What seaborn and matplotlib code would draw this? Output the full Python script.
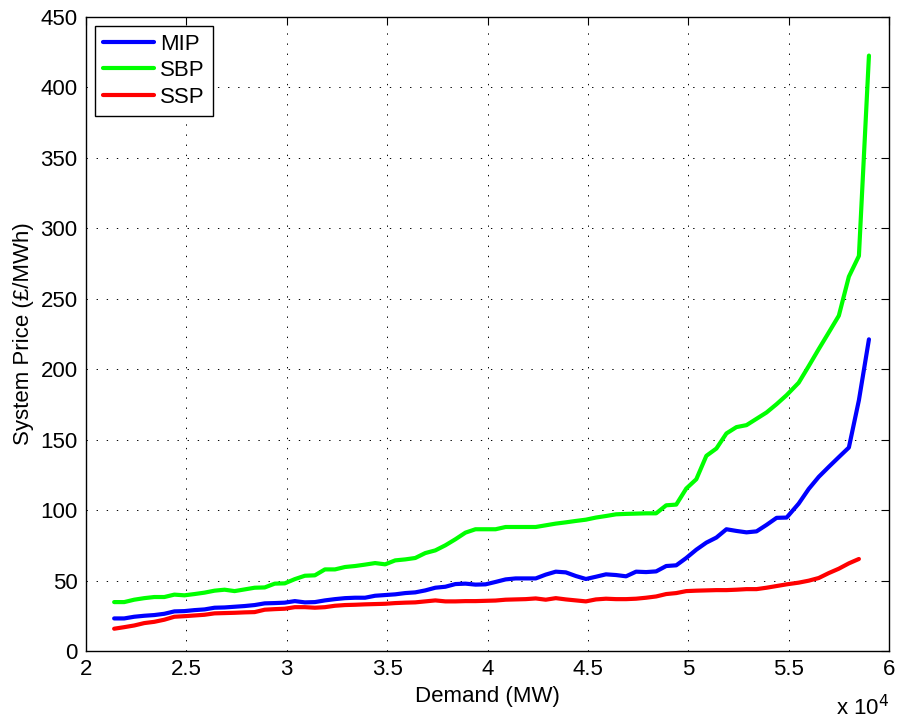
import numpy as np
import pandas as pd
import matplotlib
matplotlib.use('Agg')
import matplotlib.pyplot as plt
import seaborn as sns

# demand bins (MW)
demand_mw = [
    21400, 21900, 22400, 22900, 23400, 23900, 24400, 24900, 25400, 25900,
    26400, 26900, 27400, 27900, 28400, 28900, 29400, 29900, 30400, 30900,
    31400, 31900, 32400, 32900, 33400, 33900, 34400, 34900, 35400, 35900,
    36400, 36900, 37400, 37900, 38400, 38900, 39400, 39900, 40400, 40900,
    41400, 41900, 42400, 42900, 43400, 43900, 44400, 44900, 45400, 45900,
    46400, 46900, 47400, 47900, 48400, 48900, 49400, 49900, 50400, 50900,
    51400, 51900, 52400, 52900, 53400, 53900, 54400, 54900,
    55500, 56000, 56500, 57000, 57500, 58000, 58500, 59000]

# prices (GBP/MWh)
mip = [
    23.1, 23.1, 24.3, 25.0, 25.5, 26.4, 28.1, 28.3, 29.0, 29.5,
    30.7, 30.9, 31.4, 31.9, 32.6, 33.8, 34.0, 34.3, 35.4, 34.5,
    34.7, 35.9, 36.8, 37.5, 37.8, 37.8, 39.2, 39.7, 40.2, 41.1,
    41.6, 43.0, 44.9, 45.6, 47.5, 47.8, 47.1, 47.3, 49.0, 50.8,
    51.5, 51.5, 51.5, 54.2, 56.3, 55.8, 53.2, 51.1, 52.7, 54.4,
    53.9, 53.0, 56.3, 56.0, 56.5, 60.3, 60.8, 66.0, 71.9, 76.9,
    80.5, 86.4, 85.2, 84.2, 84.9, 89.5, 94.5, 94.7,
    104.6, 115.0, 123.6, 130.7, 137.6, 144.4, 178.0, 221.2]

sbp = [
    34.7, 34.7, 36.4, 37.5, 38.3, 38.3, 40.0, 39.5, 40.4, 41.4,
    42.8, 43.5, 42.5, 43.7, 44.9, 45.1, 47.8, 48.0, 51.0, 53.4,
    53.7, 57.9, 57.9, 59.6, 60.3, 61.3, 62.4, 61.5, 64.3, 65.0,
    66.0, 69.5, 71.4, 75.0, 79.3, 84.0, 86.4, 86.4, 86.4, 88.0,
    88.0, 88.0, 88.0, 89.2, 90.4, 91.3, 92.3, 93.2, 94.7, 95.8,
    97.0, 97.3, 97.5, 97.7, 97.7, 103.4, 103.9, 115.3, 121.9, 138.5,
    143.7, 154.4, 158.9, 160.3, 164.8, 169.3, 175.2, 181.6,
    190.4, 202.2, 214.3, 226.1, 238.0, 265.7, 280.4, 422.6]

ssp = [
    15.8, 16.9, 18.1, 19.8, 20.7, 22.2, 24.3, 24.7, 25.2, 25.7,
    26.7, 26.9, 27.1, 27.4, 27.6, 29.3, 29.7, 30.0, 31.1, 31.1,
    30.7, 31.1, 32.1, 32.6, 32.8, 33.1, 33.3, 33.5, 34.0, 34.3,
    34.5, 35.2, 35.9, 35.2, 35.2, 35.4, 35.4, 35.6, 35.8, 36.4,
    36.6, 36.8, 37.3, 36.4, 37.5, 36.6, 35.9, 35.2, 36.6, 37.1,
    36.8, 36.8, 37.1, 37.8, 38.7, 40.4, 41.1, 42.5, 42.8, 43.0,
    43.2, 43.2, 43.5, 43.9, 43.9, 44.9, 46.1, 47.3,
    48.5, 49.9, 51.8, 55.3, 58.4, 62.2, 65.3, np.nan]

series_names = ['MIP', 'SBP', 'SSP']
xtick_labels = ['2', '2.5', '3', '3.5', '4', '4.5', '5', '5.5', '6']
ytick_labels = ['0', '50', '100', '150', '200', '250', '300', '350', '400', '450']

frames = []
for name, vals in zip(series_names, [mip, sbp, ssp]):
    frames.append(pd.DataFrame({'Demand': demand_mw, 'Price': vals, 'Series': name}))
df = pd.concat(frames, ignore_index=True).dropna()

sns.set_style('white')
plt.rcParams['font.family'] = ['Liberation Sans', 'DejaVu Sans']
plt.rcParams['font.size'] = 16
plt.rcParams['text.color'] = 'k'
plt.rcParams['axes.labelcolor'] = 'k'

fig = plt.figure(figsize=(9, 7.19), dpi=100)
ax = fig.add_axes([0.0956, 0.0946, 0.8922, 0.8818])

colors = {'MIP': '#0000ff', 'SBP': '#00ff00', 'SSP': '#ff0000'}
sns.lineplot(data=df, x='Demand', y='Price', hue='Series', hue_order=series_names,
             palette=colors, linewidth=3.0, sort=False, estimator=None, ax=ax)

ax.set_xlim(20000, 60000)
ax.set_ylim(0, 450)
ax.set_xticks([20000 + 5000 * i for i in range(len(xtick_labels))])
ax.set_xticklabels(xtick_labels)
ax.set_yticks([50 * i for i in range(len(ytick_labels))])
ax.set_yticklabels(ytick_labels)
ax.tick_params(direction='in', length=6, width=0.8, top=True, right=True,
               labelsize=16, pad=6, colors='k')

ax.grid(True, color='k', linestyle=(0, (1.4, 9)), linewidth=0.7)
for sp in ax.spines.values():
    sp.set_color('k')
    sp.set_linewidth(1.0)

ax.set_xlabel('Demand (MW)', fontsize=16, labelpad=4, color='k')
ax.set_ylabel('System Price (£/MWh)', fontsize=16, labelpad=5, color='k')
ax.text(1.0, -0.101, r'x 10$^4$', transform=ax.transAxes, ha='right',
        va='baseline', fontsize=16, color='k')

handles, labels = ax.get_legend_handles_labels()
for h in handles:
    h.set_linewidth(3.0)
leg = ax.legend(handles, labels, loc='upper left', bbox_to_anchor=(0.011, 0.986),
                borderaxespad=0, fancybox=False, framealpha=1, edgecolor='k',
                fontsize=16, handlelength=2.3, handletextpad=0.3,
                labelspacing=0.25, borderpad=0.35, labelcolor='k')
leg.get_frame().set_linewidth(1.0)

fig.savefig('out.png', dpi=100)
